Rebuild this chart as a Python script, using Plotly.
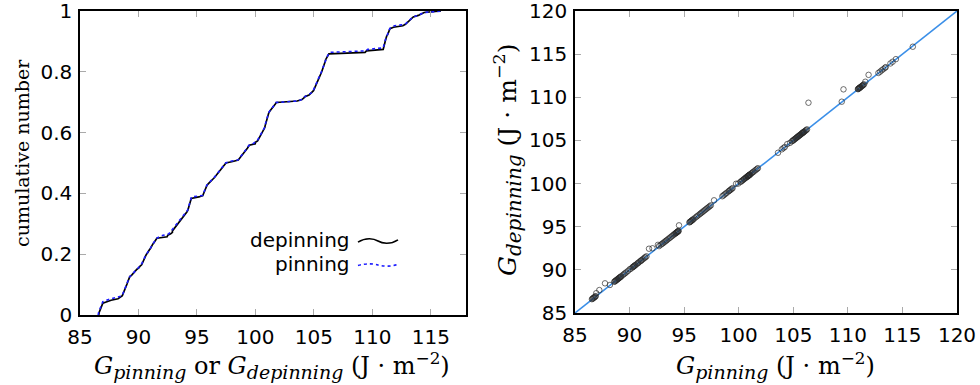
import numpy as np
import plotly.graph_objects as go

# ---------------- data ----------------
g_pinning = [
    86.55, 86.6, 86.65, 86.7, 86.75, 86.8, 86.85, 86.9, 86.95,
    87.23, 87.75, 88.2,
    88.6, 88.65, 88.7, 88.75, 88.8, 88.85, 88.9, 88.95, 89.0, 89.05, 89.1, 89.15, 89.2, 89.25,
    89.4, 89.5, 89.6, 89.7, 89.85, 90.0, 90.1,
    90.25, 90.3, 90.35, 90.4, 90.45, 90.5, 90.55, 90.65,
    90.75, 90.8, 90.9, 91.0, 91.05, 91.1, 91.2, 91.3, 91.4, 91.45, 91.55,
    91.78, 92.1,
    92.6, 92.7, 92.85, 92.95,
    93.05, 93.15, 93.25, 93.35, 93.42,
    93.55, 93.65, 93.75, 93.85, 93.95, 94.05, 94.12,
    94.2, 94.24, 94.28, 94.32, 94.36, 94.4, 94.43, 94.46, 94.49,
    94.53,
    95.48, 95.53, 95.58, 95.63, 95.68, 95.73, 95.78, 95.84,
    95.95, 96.1, 96.2, 96.32,
    96.45, 96.55, 96.65, 96.75, 96.85, 96.95,
    97.05, 97.15, 97.25, 97.35, 97.45,
    97.74,
    98.5, 98.6, 98.7, 98.8, 98.9,
    99.05, 99.12, 99.2, 99.28, 99.36, 99.44,
    99.76, 99.95,
    100.15, 100.22, 100.3, 100.37,
    100.45, 100.5, 100.6, 100.65, 100.7,
    100.78, 100.8, 100.83, 100.86, 100.89, 100.92, 100.95, 100.98, 101.01, 101.04,
    101.12, 101.2, 101.28, 101.36,
    101.48, 101.58, 101.68, 101.76,
    103.6,
    103.95, 104.1, 104.22,
    104.45, 104.7,
    104.88, 104.94, 105.0, 105.06, 105.12, 105.18, 105.24,
    105.3, 105.35, 105.4, 105.45, 105.5, 105.55, 105.6, 105.65, 105.7,
    105.77, 105.8, 105.84, 105.88, 105.92, 105.95, 105.98,
    106.05, 106.12, 106.19, 106.26,
    106.39,
    109.44, 109.6,
    110.92, 110.95, 110.98, 111.03, 111.06, 111.09,
    111.12, 111.16, 111.2, 111.28, 111.32, 111.36, 111.42, 111.48,
    111.6,
    111.9,
    112.8, 112.95, 113.1, 113.25,
    113.4, 113.47,
    113.9, 114.1,
    114.4,
    115.95,
]

g_depinning = [
    86.6, 86.65, 86.7, 86.75, 86.8, 86.85, 86.9, 86.95, 87.3,
    87.66, 88.44, 88.25,
    88.62, 88.66, 88.72, 88.76, 88.82, 88.86, 88.92, 88.96, 89.02, 89.06, 89.12, 89.16, 89.22, 89.26,
    89.42, 89.52, 89.62, 89.72, 89.87, 90.05, 90.12,
    90.27, 90.32, 90.37, 90.42, 90.47, 90.52, 90.57, 90.67,
    90.77, 90.82, 90.92, 91.02, 91.07, 91.12, 91.22, 91.32, 91.42, 91.47, 91.57,
    92.45, 92.5,
    92.9, 92.75, 92.9, 93.0,
    93.08, 93.18, 93.28, 93.38, 93.45,
    93.58, 93.68, 93.78, 93.88, 93.98, 94.08, 94.15,
    94.22, 94.26, 94.3, 94.34, 94.38, 94.42, 94.45, 94.48, 94.51,
    95.16,
    95.5, 95.55, 95.6, 95.65, 95.7, 95.75, 95.8, 95.86,
    95.98, 96.13, 96.23, 96.35,
    96.48, 96.58, 96.68, 96.78, 96.88, 96.98,
    97.08, 97.18, 97.28, 97.38, 97.48,
    98.06,
    98.53, 98.63, 98.73, 98.83, 98.93,
    99.08, 99.15, 99.23, 99.31, 99.39, 99.47,
    99.98, 100.0,
    100.18, 100.25, 100.33, 100.4,
    100.48, 100.53, 100.63, 100.68, 100.73,
    100.8, 100.82, 100.85, 100.88, 100.91, 100.94, 100.97, 101.0, 101.03, 101.06,
    101.14, 101.22, 101.3, 101.38,
    101.5, 101.6, 101.7, 101.78,
    103.57,
    103.97, 104.12, 104.24,
    104.58, 104.72,
    104.9, 104.96, 105.02, 105.08, 105.14, 105.2, 105.26,
    105.32, 105.37, 105.42, 105.47, 105.52, 105.57, 105.62, 105.67, 105.72,
    105.79, 105.82, 105.86, 105.9, 105.94, 105.97, 106.0,
    106.07, 106.14, 106.21, 106.28,
    109.37,
    109.49, 110.92,
    110.94, 110.97, 111.0, 111.05, 111.08, 111.11,
    111.14, 111.18, 111.22, 111.3, 111.34, 111.38, 111.44, 111.5,
    111.8,
    112.6,
    112.82, 112.97, 113.12, 113.27,
    113.42, 113.49,
    113.92, 114.12,
    114.42,
    115.86,
]

x_range = [85, 118]
y_range = [0, 1]
xy_range = [85, 120]
left_xticks = [85, 90, 95, 100, 105, 110, 115]
left_yticks = [0, 0.2, 0.4, 0.6, 0.8, 1]
left_ytick_text = ["0", "0.2", "0.4", "0.6", "0.8", "1"]
right_ticks = [85, 90, 95, 100, 105, 110, 115, 120]
legend_names = ["depinning", "pinning"]

# ---------------- figure ----------------
W, H = 980, 385

def px_x(p):
    return p / W

def px_y(p):
    return 1 - p / H

dep_sorted = np.sort(np.array(g_depinning))
pin_sorted = np.sort(np.array(g_pinning))
cdf_dep = np.arange(1, len(dep_sorted) + 1) / len(dep_sorted)
cdf_pin = np.arange(1, len(pin_sorted) + 1) / len(pin_sorted)

fig = go.Figure()

fig.add_trace(go.Scatter(
    x=np.concatenate([[dep_sorted[0]], dep_sorted]),
    y=np.concatenate([[0.0], cdf_dep]),
    mode="lines", line=dict(color="black", width=1.7),
    xaxis="x", yaxis="y", showlegend=False, name=legend_names[0]))
fig.add_trace(go.Scatter(
    x=np.concatenate([[pin_sorted[0]], pin_sorted]),
    y=np.concatenate([[0.0], cdf_pin]),
    mode="lines", line=dict(color="#1a1aff", width=1.6, dash="dot"),
    xaxis="x", yaxis="y", showlegend=False, name=legend_names[1]))

fig.add_trace(go.Scatter(
    x=xy_range, y=xy_range, mode="lines",
    line=dict(color="#3b8fe8", width=1.6),
    xaxis="x2", yaxis="y2", showlegend=False))
fig.add_trace(go.Scatter(
    x=g_pinning, y=g_depinning, mode="markers",
    marker=dict(symbol="circle-open", size=5.5, color="rgba(40,40,40,0.85)",
                line=dict(width=0.8)),
    xaxis="x2", yaxis="y2", showlegend=False))

tick_font = dict(family="DejaVu Sans, sans-serif", size=20, color="black")

axis_common = dict(
    showgrid=False, zeroline=False,
    showline=True, linecolor="black", linewidth=1.5, mirror="allticks",
    ticks="inside", ticklen=6, tickwidth=1, tickcolor="#aaaaaa",
    tickfont=tick_font, automargin=False, ticklabeloverflow="allow",
)

fig.update_layout(
    width=W, height=H,
    margin=dict(l=0, r=0, t=0, b=0),
    paper_bgcolor="white", plot_bgcolor="white",
    showlegend=False,
    xaxis=dict(domain=[px_x(80), px_x(466)], range=x_range, tickvals=left_xticks,
               anchor="y", ticklabelstandoff=3, **axis_common),
    yaxis=dict(domain=[px_y(315), px_y(11)], range=y_range, tickvals=left_yticks,
               ticktext=left_ytick_text, anchor="x", ticklabelstandoff=2, **axis_common),
    xaxis2=dict(domain=[px_x(575), px_x(957)], range=xy_range, tickvals=right_ticks,
                anchor="y2", ticklabelstandoff=3, **axis_common),
    yaxis2=dict(domain=[px_y(313), px_y(11)], range=xy_range, tickvals=right_ticks,
                anchor="x2", ticklabelstandoff=2, **axis_common),
)

# axis titles
title_font = dict(family="DejaVu Serif, serif", size=24, color="black")
SUB = '<sub><span style="font-size:19px"><i>{}</i></span></sub>'
UNIT = "(J · m<sup>−2</sup>)"
fig.add_annotation(x=px_x(272), y=px_y(365), xref="paper", yref="paper", showarrow=False,
                   xanchor="center", yanchor="middle", font=title_font,
                   text="<i>G</i>" + SUB.format("pinning") + " or <i>G</i>"
                        + SUB.format("depinning") + " " + UNIT)
fig.add_annotation(x=px_x(775), y=px_y(365), xref="paper", yref="paper", showarrow=False,
                   xanchor="center", yanchor="middle", font=title_font,
                   text="<i>G</i>" + SUB.format("pinning") + " " + UNIT)
fig.add_annotation(x=px_x(22), y=px_y(153), xref="paper", yref="paper", showarrow=False,
                   xanchor="center", yanchor="middle", textangle=-90,
                   font=dict(family="DejaVu Serif, serif", size=19, color="black"),
                   text="cumulative number")
fig.add_annotation(x=px_x(507), y=px_y(160), xref="paper", yref="paper", showarrow=False,
                   xanchor="center", yanchor="middle", textangle=-90,
                   font=dict(family="DejaVu Serif, serif", size=25, color="black"),
                   text="<i>G</i>" + SUB.format("depinning").replace("19px", "20px") + " " + UNIT)

# legend (gnuplot style: text then wavy sample)
legend_font = dict(family="DejaVu Sans, sans-serif", size=20, color="black")
fig.add_annotation(x=px_x(352), y=px_y(240), xref="paper", yref="paper",
                   text=legend_names[0], showarrow=False, xanchor="right", yanchor="middle",
                   font=legend_font)
fig.add_annotation(x=px_x(352), y=px_y(264), xref="paper", yref="paper",
                   text=legend_names[1], showarrow=False, xanchor="right", yanchor="middle",
                   font=legend_font)

def wave_path(x0, x1, yc, amp):
    pts = [(x0, yc + amp * 0.3), (x0 + (x1 - x0) * 0.2, yc - amp * 1.0),
           (x0 + (x1 - x0) * 0.4, yc - amp * 0.6), (x0 + (x1 - x0) * 0.5, yc),
           (x0 + (x1 - x0) * 0.6, yc + amp * 0.6), (x0 + (x1 - x0) * 0.8, yc + amp * 1.0),
           (x1, yc - amp * 0.3)]
    p = [f"{px_x(a):.5f},{px_y(b):.5f}" for a, b in pts]
    return f"M {p[0]} C {p[1]} {p[2]} {p[3]} C {p[4]} {p[5]} {p[6]}"

fig.add_shape(type="path", path=wave_path(358, 398, 241, 4), xref="paper", yref="paper",
              line=dict(color="black", width=1.6))
fig.add_shape(type="path", path=wave_path(358, 398, 265, 2), xref="paper", yref="paper",
              line=dict(color="#1a1aff", width=1.6, dash="dot"))

fig.write_html("out.html",
               config={"displayModeBar": False},
               post_script="document.body.style.margin='0';document.body.style.padding='0';")
